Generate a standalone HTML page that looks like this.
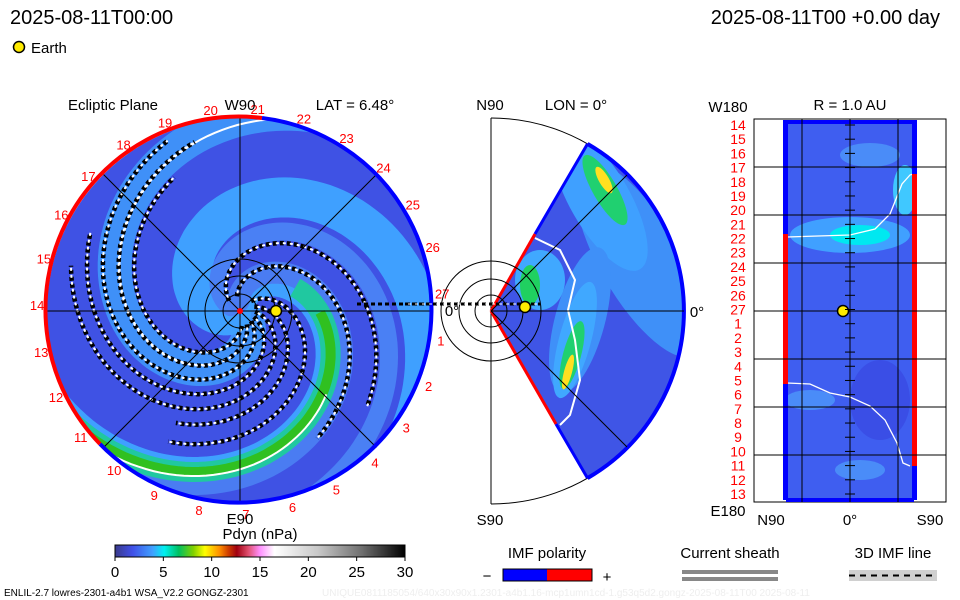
<!DOCTYPE html>
<html><head><meta charset="utf-8"><style>
body{margin:0;background:#fff;width:960px;height:600px;overflow:hidden;font-family:"Liberation Sans",sans-serif}
svg{display:block}
text{font-family:"Liberation Sans",sans-serif}
</style></head><body>
<svg id="s" width="960" height="600" viewBox="0 0 960 600">
<defs>
<clipPath id="disk"><circle cx="240" cy="311" r="193"/></clipPath>
<clipPath id="wedge"><path d="M491,311 L587.5,143.9 A193,193 0 0 1 587.5,478.1 Z"/></clipPath>
<clipPath id="rect"><rect x="786" y="121" width="128" height="379"/></clipPath>
<linearGradient id="cb" x1="0" x2="1">
<stop offset="0" stop-color="#3a3a8a"/><stop offset="0.06" stop-color="#4050e8"/><stop offset="0.13" stop-color="#40a0ff"/><stop offset="0.17" stop-color="#00f0f0"/><stop offset="0.22" stop-color="#00c060"/><stop offset="0.27" stop-color="#80d000"/><stop offset="0.31" stop-color="#ffff00"/><stop offset="0.36" stop-color="#ff9000"/><stop offset="0.39" stop-color="#d04000"/><stop offset="0.42" stop-color="#a00010"/><stop offset="0.46" stop-color="#e05070"/><stop offset="0.5" stop-color="#ff90ff"/><stop offset="0.55" stop-color="#ffffff"/><stop offset="0.7" stop-color="#c8c8c8"/><stop offset="0.85" stop-color="#707070"/><stop offset="1" stop-color="#000000"/>
</linearGradient>
</defs>
<text x="10" y="24" font-size="20" font-family="Liberation Mono">2025-08-11T00:00</text>
<text x="940" y="24" font-size="20" text-anchor="end" font-family="Liberation Mono">2025-08-11T00 +0.00 day</text>
<circle cx="19" cy="47" r="5.5" fill="#ffeb00" stroke="#000" stroke-width="1.5"/>
<text x="31" y="53" font-size="15">Earth</text>

<g id="left">
<circle cx="240" cy="311" r="193" fill="#3f52e4"/>
<g id="leftfill" clip-path="url(#disk)"></g>
<g id="leftlines" clip-path="url(#disk)"></g>
<path d="M262,118 A193,193 0 0 0 100,444" fill="none" stroke="#ff0000" stroke-width="4"/>
<path d="M100,444 A193,193 0 1 0 262,118" fill="none" stroke="#0000ff" stroke-width="4"/>
<g id="leftnums"></g>
<text x="113" y="110" font-size="15" text-anchor="middle">Ecliptic Plane</text>
<text x="240" y="110" font-size="15" text-anchor="middle">W90</text>
<text x="355" y="110" font-size="15" text-anchor="middle">LAT = 6.48°</text>
<text x="240" y="524" font-size="15" text-anchor="middle">E90</text>
<text x="452" y="316" font-size="15" text-anchor="middle">0°</text>
</g>

<g id="mid">
<path d="M491,118 A193,193 0 0 1 491,504" fill="none" stroke="#000"/>
<line x1="491" y1="118" x2="491" y2="504" stroke="#000"/>
<path d="M491,311 L587.5,143.9 A193,193 0 0 1 587.5,478.1 Z" fill="#3f55e6"/>
<g id="midfill" clip-path="url(#wedge)"></g>
<path d="M587.5,143.9 A193,193 0 0 1 587.5,478.1" fill="none" stroke="#0000ff" stroke-width="4"/>
<line x1="491" y1="311" x2="535" y2="234" stroke="#ff0000" stroke-width="3"/>
<line x1="491" y1="311" x2="556" y2="424" stroke="#ff0000" stroke-width="3"/>
<line x1="535" y1="234" x2="587.5" y2="143.9" stroke="#0000ff" stroke-width="3"/>
<line x1="556" y1="424" x2="587.5" y2="478.1" stroke="#0000ff" stroke-width="3"/>
<g fill="none" stroke="#000" stroke-width="1">
<circle cx="491" cy="311" r="16"/><circle cx="491" cy="311" r="32"/><circle cx="491" cy="311" r="50"/>
<line x1="491" y1="311" x2="627" y2="175"/><line x1="491" y1="311" x2="627" y2="447"/><line x1="491" y1="311" x2="684" y2="311"/>
</g>
<line x1="405" y1="304" x2="540" y2="304" stroke="#000" stroke-width="3" stroke-dasharray="4,3"/>
<line x1="405" y1="304" x2="540" y2="304" stroke="#fff" stroke-width="1" stroke-dasharray="3,4" stroke-dashoffset="4"/>
<circle cx="525" cy="307" r="5.5" fill="#ffeb00" stroke="#000" stroke-width="1.5"/>
<text x="490" y="110" font-size="15" text-anchor="middle">N90</text>
<text x="576" y="110" font-size="15" text-anchor="middle">LON = 0°</text>
<text x="697" y="317" font-size="15" text-anchor="middle">0°</text>
<text x="490" y="525" font-size="15" text-anchor="middle">S90</text>
</g>

<g id="right">
<rect x="754" y="119" width="192" height="383" fill="#fff" stroke="#000"/>
<rect x="786" y="121" width="128" height="379" fill="#3f5ef0"/>
<g id="rightfill" clip-path="url(#rect)"></g>
<path d="M787,237 L818,236 L850,235 L875,229 L890,214 L902,184 L910,175 L913,174" fill="none" stroke="#fff" stroke-width="1.3"/>
<path d="M787,383 L810,384 L830,393 L850,397 L870,406 L885,420 L897,443 L903,463 L910,466" fill="none" stroke="#fff" stroke-width="1.3"/>
<rect x="783" y="120" width="5" height="380" fill="#0000ff"/>
<rect x="783" y="234" width="5" height="150" fill="#ff0000"/>
<rect x="912" y="120" width="5" height="380" fill="#0000ff"/>
<rect x="912" y="174" width="5" height="292" fill="#ff0000"/>
<rect x="786" y="120" width="128" height="4" fill="#0000ff"/><rect x="786" y="498" width="128" height="4" fill="#0000ff"/>
<g id="rightgrid"></g>
<circle cx="843" cy="311" r="5.5" fill="#ffeb00" stroke="#000" stroke-width="1.5"/>
<g id="rightnums"></g>
<text x="728" y="112" font-size="15" text-anchor="middle">W180</text>
<text x="850" y="110" font-size="15" text-anchor="middle">R = 1.0 AU</text>
<text x="728" y="516" font-size="15" text-anchor="middle">E180</text>
<text x="771" y="525" font-size="15" text-anchor="middle">N90</text>
<text x="850" y="525" font-size="15" text-anchor="middle">0°</text>
<text x="930" y="525" font-size="15" text-anchor="middle">S90</text>
</g>

<g id="colorbar">
<text x="260" y="539" font-size="15" text-anchor="middle">Pdyn (nPa)</text>
<rect x="115" y="545" width="290" height="12" fill="url(#cb)" stroke="#000"/>
<g id="cbticks"></g>
</g>

<g>
<text x="547" y="558" font-size="15" text-anchor="middle">IMF polarity</text>
<rect x="503" y="569" width="44" height="12" fill="#0000ff"/><rect x="547" y="569" width="45" height="12" fill="#ff0000"/>
<rect x="503" y="569" width="89" height="12" fill="none" stroke="#000"/>
<text x="487" y="581" font-size="15" text-anchor="middle">−</text><text x="607" y="582" font-size="15" text-anchor="middle">+</text>
</g>
<g>
<text x="730" y="558" font-size="15" text-anchor="middle">Current sheath</text>
<rect x="682" y="570" width="96" height="4" fill="#888"/><rect x="682" y="577" width="96" height="4" fill="#888"/>
</g>
<g>
<text x="893" y="558" font-size="15" text-anchor="middle">3D IMF line</text>
<rect x="849" y="570" width="88" height="11" fill="#d0d0d0"/>
<line x1="849" y1="575.5" x2="937" y2="575.5" stroke="#000" stroke-width="2" stroke-dasharray="6,5"/>
</g>
<text x="4" y="596" font-size="10">ENLIL-2.7 lowres-2301-a4b1 WSA_V2.2 GONGZ-2301</text>
<text x="322" y="596" font-size="10" fill="#eee">UNIQUE0811185054/640x30x90x1.2301-a4b1.16-mcp1umn1cd-1.g53q5d2.gongz-2025-08-11T00   2025-08-11</text>
</svg>
<script>
const NS="http://www.w3.org/2000/svg";
function mk(t,a,p){const e=document.createElementNS(NS,t);for(const k in a)e.setAttribute(k,a[k]);p.appendChild(e);return e;}
const cbTicks=[0,5,10,15,20,25,30];
const cbMax=30;
const cbScale=v=>115+v/cbMax*290;
const cbg=document.getElementById('cbticks');
cbTicks.forEach(v=>{
 const l=mk('line',{x1:cbScale(v),x2:cbScale(v),y1:557,y2:561,stroke:'#000'},cbg);
 
 
 const t=mk('text',{x:cbScale(v),y:577,'font-size':15,'text-anchor':'middle'},cbg);t.textContent=v;
 
 
});
// left panel
const cx=240,cy=311,R=193;
const armPhases=[40,145,-95,-170,250];
const armWidths=[34,40,30,18,22];
const armColors=['#3f90f8','#3fa0ff','#3fa0ff','#4a80f4','#4a7cf2'];
const imfPhases=[-154,-120,-60,-35,-15,5,25,45,65];
const imfEnds=[160,150,150,130,175,170,185,175,150];
const spiralK=1.2;
function spiral(ph,r0,r1){let p=[];for(let r=r0;r<=r1;r+=2){const a=(ph+spiralK*r)*Math.PI/180;p.push((cx+r*Math.cos(a)).toFixed(1)+','+(cy+r*Math.sin(a)).toFixed(1));}return p.join(' ');}
const lf=document.getElementById('leftfill');
armPhases.forEach((ph,i)=>{const e=mk('polyline',{points:spiral(ph,10,260),fill:'none',stroke:armColors[i],'stroke-width':armWidths[i],'stroke-linecap':'round'},lf);
 });
const g1=mk('polyline',{points:spiral(-95,60,230),fill:'none',stroke:'#20c8a0','stroke-width':20},lf);

mk('polyline',{points:spiral(-95,80,230),fill:'none',stroke:'#30c020','stroke-width':10},lf);
const ll=document.getElementById('leftlines');
[[46,60,200],[-100,120,200]].forEach(([ph,a,b])=>{const e=mk('polyline',{points:spiral(ph,a,b),fill:'none',stroke:'#fff','stroke-width':2},ll);
 });
imfPhases.forEach((ph,i)=>{
 const e=mk('polyline',{points:spiral(ph,15,imfEnds[i]),fill:'none',stroke:'#000','stroke-width':4.5,'stroke-dasharray':'4,3'},ll);
 
 mk('polyline',{points:spiral(ph,15,imfEnds[i]),fill:'none',stroke:'#fff','stroke-width':2,'stroke-dasharray':'3,4','stroke-dashoffset':4},ll);
});
[17,35,52].forEach(r=>mk('circle',{cx:cx,cy:cy,r:r,fill:'none',stroke:'#000'},ll));
[0,45,90,135].forEach(a=>{const t=a*Math.PI/180;mk('line',{x1:cx-R*Math.cos(t),y1:cy-R*Math.sin(t),x2:cx+R*Math.cos(t),y2:cy+R*Math.sin(t),stroke:'#000'},ll);});
mk('line',{x1:357,y1:304,x2:435,y2:304,stroke:'#000','stroke-width':3,'stroke-dasharray':'4,3'},ll);
mk('circle',{cx:cx,cy:cy,r:3,fill:'#ff0000'},ll);
const em=mk('circle',{cx:276,cy:311,r:5.5,fill:'#ffeb00',stroke:'#000','stroke-width':1.5},document.getElementById('left'));

const carr=[];for(let i=1;i<=27;i++)carr.push(i);
const ln=document.getElementById('leftnums');
carr.forEach(n=>{const a=(-5-(27-n)*360/27)*Math.PI/180;const t=mk('text',{x:cx+203*Math.cos(a),y:cy+203*Math.sin(a)+5,'font-size':13,fill:'#ff0000','text-anchor':'middle'},ln);t.textContent=n;
 });
// mid
const mf=document.getElementById('midfill');
[['#3f90f8',640,260,40,110,-30],['#3fa0ff',600,200,30,80,-30],['#20d070',605,190,12,40,-30],['#ffe020',604,180,5,15,-30],['#3f90f8',580,320,25,75,15],['#40a8ff',575,340,16,60,15],['#20d070',572,355,9,35,15],['#ffe020',568,372,4,18,15],['#40a8ff',540,280,25,30,0],['#20d060',530,285,10,20,0]].forEach(([c,x,y,rx,ry,rot])=>mk('ellipse',{cx:x,cy:y,rx:rx,ry:ry,fill:c,transform:`rotate(${rot} ${x} ${y})`},mf));
mk('polyline',{points:'535,238 560,250 575,280 568,310 575,340 580,380 570,415 560,425',fill:'none',stroke:'#fff','stroke-width':2},mf);
// right
const rf=document.getElementById('rightfill');
[[870,155,30,12,'#4a8cf8'],[850,235,60,18,'#40a0ff'],[860,235,30,10,'#00e8f0'],[905,190,12,25,'#40c8ff'],[810,400,25,10,'#4a8cf8'],[860,470,25,10,'#4a8cf8'],[880,400,30,40,'#3a4ee6']].forEach(([x,y,rx,ry,c])=>mk('ellipse',{cx:x,cy:y,rx:rx,ry:ry,fill:c},rf));
const rg=document.getElementById('rightgrid');
const hLines=[167,215,263,311,359,407,455];
hLines.forEach(y=>mk('line',{x1:754,x2:946,y1:y,y2:y,stroke:'#000'},rg));
[802,850,898].forEach(x=>mk('line',{x1:x,x2:x,y1:119,y2:502,stroke:'#000'},rg));
const rn=document.getElementById('rightnums');
const rLabels=[14,15,16,17,18,19,20,21,22,23,24,25,26,27,1,2,3,4,5,6,7,8,9,10,11,12,13];
rLabels.forEach((n,i)=>{const y=125+i*(494-125)/26;const t=mk('text',{x:738,y:y+5,'font-size':14,fill:'#ff0000','text-anchor':'middle'},rn);t.textContent=n;
 
 mk('line',{x1:845,x2:855,y1:y,y2:y,stroke:'#000'},rn);});
</script>
</body></html>
